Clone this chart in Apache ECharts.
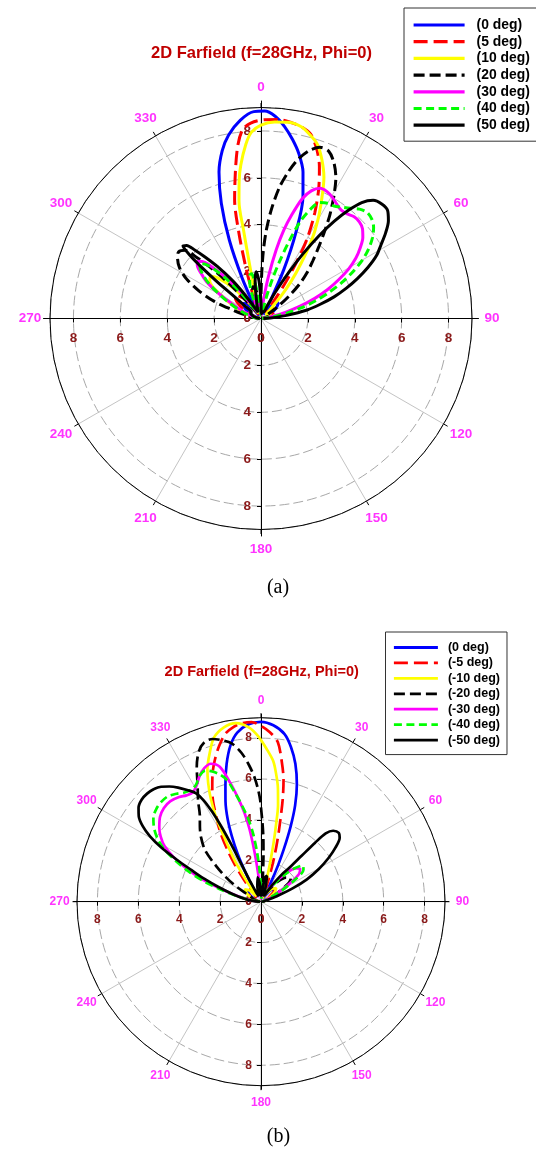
<!DOCTYPE html>
<html>
<head>
<meta charset="utf-8">
<script src="https://cdn.jsdelivr.net/npm/echarts@6/dist/echarts.min.js"></script>
<style>
html,body{margin:0;padding:0;background:#ffffff;}
#chart{width:536px;height:1150px;}
</style>
</head>
<body>
<div id="chart"></div>
<script>
// Tick labels
const angleTicks = [0, 30, 60, 90, 120, 150, 180, 210, 240, 270, 300, 330];
const radialTicks = [0, 2, 4, 6, 8];
const radialMinorTicks = [2, 4, 6, 8];

// Series names
const namesA = ['(0 deg)', '(5 deg)', '(10 deg)', '(20 deg)', '(30 deg)', '(40 deg)', '(50 deg)'];
const namesB = ['(0 deg)', '(-5 deg)', '(-10 deg)', '(-20 deg)', '(-30 deg)', '(-40 deg)', '(-50 deg)'];

// Far-field magnitude, pairs of [theta (deg), value] — panel (a), positive steering
const A_0 = [[-90,0.05],[-78,0.2],[-68,0.45],[-58,0.8],[-50,1.0],[-44,0.85],[-38,0.45],[-33,0.15],[-30,0.3],[-28,0.7],[-25,1.9],[-22,3.6],[-19,5.2],[-16,6.5],[-13,7.35],[-10,7.95],[-6,8.5],[-2,8.83],[1,8.85],[4,8.65],[7,8.25],[10,7.75],[13,7.2],[16,6.5],[19,5.5],[22,4.0],[25,2.3],[28,0.8],[31,0.2],[36,0.45],[42,0.85],[48,1.0],[55,0.8],[65,0.45],[77,0.2],[90,0.05]];
const A_5 = [[-90,0.05],[-75,0.3],[-63,0.8],[-53,1.35],[-47,1.5],[-41,1.15],[-35,0.55],[-29,0.2],[-23,0.3],[-20,0.7],[-18,1.4],[-16.5,2.3],[-14.5,3.75],[-12.5,5.2],[-9.5,6.55],[-7.5,7.5],[-5.5,8.1],[-3,8.35],[1,8.48],[5,8.52],[9,8.45],[12,8.35],[15,8.15],[18,7.65],[21,6.95],[24,6.05],[27,5.05],[30,3.95],[32,2.95],[34,2.0],[36,1.1],[39,0.4],[44,0.3],[52,0.75],[60,0.7],[70,0.4],[80,0.2],[90,0.05]];
const A_10 = [[-90,0.05],[-76,0.4],[-66,1.2],[-59,2.1],[-54,2.7],[-50,2.8],[-46,2.4],[-42,1.7],[-37,0.8],[-31,0.3],[-24,0.3],[-17,0.5],[-14,0.9],[-12.5,1.8],[-11.6,2.9],[-11.2,3.8],[-10.6,5.1],[-9,5.95],[-7.5,6.6],[-5,7.45],[-3,7.95],[0,8.25],[4,8.4],[8,8.45],[12,8.35],[15,8.1],[18,7.8],[21,7.25],[24,6.6],[27,5.7],[30,4.85],[33,3.95],[36,2.9],[39,2.05],[42,1.25],[46,0.5],[52,0.25],[60,0.45],[70,0.4],[80,0.2],[90,0.05]];
const A_20 = [[-90,0.05],[-82,0.3],[-76,0.8],[-73,1.3],[-70,2.1],[-66,2.9],[-62,3.6],[-58,4.1],[-54,4.4],[-51,4.52],[-48,4.35],[-46.5,3.8],[-45,3.2],[-43,2.3],[-41,1.4],[-38,0.6],[-34,0.3],[-28,0.4],[-20,0.9],[-15,1.4],[-11,1.35],[-7,0.8],[-3,0.3],[0,1.0],[1,2.0],[2,2.9],[3.5,3.8],[5.5,4.7],[8,5.65],[10.5,6.35],[13,6.95],[16,7.45],[19,7.72],[22,7.7],[25,7.35],[28,6.8],[30.5,6.15],[32.5,5.6],[34,5.2],[36.5,4.5],[39,3.9],[42,3.3],[45,2.8],[48,2.25],[51,1.6],[54,1.0],[58,0.4],[65,0.2],[75,0.3],[90,0.05]];
const A_30 = [[-90,0.05],[-78,0.3],[-68,0.8],[-63,1.4],[-59,2.2],[-56,2.8],[-53,3.2],[-50,3.55],[-48,3.65],[-46,3.5],[-43.5,3.05],[-41,2.4],[-38,1.6],[-35,0.8],[-31,0.3],[-24,0.4],[-18,0.9],[-13,1.0],[-8,0.6],[-3,0.2],[3,0.15],[6,0.3],[8,0.9],[10,1.8],[12.5,3.0],[14.5,3.9],[16.5,4.6],[19,5.4],[21.5,5.85],[24.5,6.1],[27.5,6.1],[30.5,6.0],[33.5,5.85],[36.5,5.75],[39.5,5.78],[42.5,5.88],[45.5,5.88],[48.5,5.78],[51.5,5.55],[54.5,5.2],[57.5,4.8],[60.5,4.3],[63.5,3.7],[66.5,3.1],[69.5,2.45],[72.5,1.75],[75.5,1.1],[79,0.5],[84,0.2],[90,0.05]];
const A_40 = [[-90,0.05],[-80,0.3],[-70,0.9],[-63,1.6],[-59,2.2],[-56,2.7],[-53,3.1],[-50,3.4],[-48,3.5],[-46,3.35],[-43.5,2.9],[-41,2.2],[-38,1.4],[-35,0.6],[-30,0.3],[-24,0.6],[-19,1.4],[-15,1.9],[-12,1.95],[-9,1.4],[-5,0.6],[0,0.15],[8,0.15],[12,0.3],[14,0.9],[16,1.7],[18,2.55],[20,3.5],[22,4.45],[24.5,5.15],[27,5.55],[30,5.68],[33,5.72],[36,5.87],[39,6.05],[42,6.28],[45,6.4],[48,6.35],[51,6.18],[54,5.88],[57,5.48],[60,5.0],[63,4.4],[66,3.78],[69,3.1],[72,2.45],[75,1.8],[78,1.15],[82,0.5],[87,0.15],[90,0.05]];
const A_50 = [[-90,0.05],[-75,0.3],[-62,0.5],[-56,0.5],[-52,0.9],[-50.5,1.6],[-50,2.5],[-49.2,3.4],[-48.3,4.1],[-47,4.55],[-45.5,4.45],[-44,4.05],[-42.3,3.55],[-40,2.9],[-37,2.05],[-34,1.2],[-30,0.5],[-24,0.3],[-15,0.7],[-9,1.6],[-6,2.0],[-3,1.6],[0,0.7],[5,0.2],[15,0.3],[22,0.3],[26,0.6],[28.5,1.3],[31,2.3],[33,3.3],[35,4.3],[37,5.2],[39,5.95],[41,6.55],[43.5,6.95],[46.5,7.1],[49.5,7.1],[52.5,6.85],[55.5,6.45],[58.5,6.0],[61.5,5.6],[64.5,5.05],[67.5,4.45],[70.5,3.85],[73.5,3.25],[76.5,2.6],[79.5,2.0],[83,1.1],[87,0.4],[90,0.1]];

// Panel (b), negative steering
const B_0 = [[-90,0.05],[-76,0.2],[-62,0.5],[-52,0.8],[-44,0.75],[-37,0.35],[-32,0.3],[-30,0.8],[-28,1.6],[-26,2.6],[-24,3.5],[-22,4.35],[-19.5,5.2],[-17,5.95],[-14,6.95],[-11,7.8],[-8,8.35],[-4,8.7],[0,8.8],[4,8.65],[8,8.28],[11,7.7],[14,6.95],[17,6.0],[19.5,5.0],[21.5,3.95],[23.5,2.8],[25,2.0],[27,1.1],[29,0.45],[32,0.2],[37,0.45],[43,0.8],[50,0.9],[60,0.6],[75,0.2],[90,0.05]];
const B_m5 = [[-90,0.05],[-78,0.2],[-68,0.5],[-58,0.7],[-50,0.45],[-44,0.3],[-41,0.7],[-39,1.1],[-37,1.6],[-35,2.3],[-33,3.0],[-30.5,3.9],[-28,4.6],[-25.5,5.45],[-23,6.1],[-20.5,6.75],[-18,7.3],[-15,7.9],[-12,8.4],[-9,8.65],[-6,8.78],[-3,8.8],[0,8.6],[3,8.3],[6,7.85],[8.5,6.9],[10.5,6.05],[12,5.1],[13.5,4.0],[15,3.1],[16.5,2.3],[18,1.5],[20,0.7],[23,0.25],[30,0.4],[37,0.8],[44,1.05],[51,0.85],[60,0.45],[75,0.2],[90,0.05]];
const B_m10 = [[-90,0.05],[-76,0.3],[-63,0.7],[-53,1.0],[-46,0.8],[-40,0.35],[-37,0.5],[-35.5,1.0],[-34,1.6],[-32.5,2.4],[-31,3.0],[-29.5,3.7],[-28,4.7],[-26,5.6],[-24,6.35],[-22,7.0],[-19,7.7],[-16,8.35],[-12,8.72],[-8,8.82],[-4,8.55],[-1,8.1],[2,7.5],[5,6.9],[7,6.2],[8.5,5.6],[10,4.8],[11,3.9],[12,3.0],[13,2.1],[14.5,1.1],[16.5,0.4],[21,0.2],[30,0.4],[40,0.8],[48,1.0],[56,0.8],[66,0.4],[78,0.2],[90,0.05]];
const B_m20 = [[-90,0.05],[-76,0.3],[-66,0.5],[-61,0.85],[-58,1.5],[-55,2.1],[-51.5,2.8],[-47.5,3.7],[-43,4.3],[-39,4.75],[-35.5,5.15],[-32,5.8],[-28.5,6.5],[-25.5,7.3],[-22.5,7.95],[-19.5,8.28],[-16.5,8.3],[-13.5,8.12],[-10.5,7.88],[-7.5,7.35],[-5,6.7],[-3,6.1],[-1.5,5.5],[-0.5,5.0],[0,4.6],[1,3.9],[2,3.2],[3,2.3],[4,1.4],[6,0.6],[10,0.3],[17,0.5],[25,0.4],[33,0.7],[40,1.3],[46,1.7],[52,1.85],[57,1.5],[63,0.8],[72,0.3],[90,0.05]];
const B_m30 = [[-90,0.05],[-83,0.4],[-78,0.9],[-75,1.4],[-72,2.1],[-69,3.1],[-66,4.0],[-63,4.8],[-60,5.45],[-57,5.85],[-54,6.15],[-50,6.45],[-46,6.6],[-42,6.62],[-38,6.5],[-35,6.35],[-32,6.3],[-29,6.5],[-26,6.85],[-23,7.1],[-20,7.18],[-17,6.9],[-14.5,6.0],[-12.5,5.2],[-10.5,4.4],[-9,3.6],[-7.5,2.5],[-6,1.5],[-4,0.6],[0,0.15],[10,0.35],[20,0.5],[30,0.7],[37,1.3],[42,1.95],[46,2.35],[50,2.5],[54,2.3],[58,1.6],[63,0.8],[70,0.3],[90,0.05]];
const B_m40 = [[-90,0.05],[-82,0.5],[-77,1.2],[-73.5,2.0],[-70.5,2.9],[-67.5,3.8],[-64.5,4.6],[-61.5,5.4],[-58.5,5.95],[-55,6.4],[-52,6.68],[-48.5,6.84],[-45,6.9],[-41.5,6.88],[-38,6.7],[-35,6.52],[-32,6.45],[-29,6.55],[-26,6.85],[-23,6.97],[-20.5,6.8],[-18,6.55],[-15.5,6.15],[-13.5,5.5],[-12,5.05],[-10,4.45],[-8,3.85],[-6.5,3.3],[-4.5,2.4],[-2.5,1.5],[-1,0.8],[1,0.3],[6,0.2],[14,0.4],[24,0.5],[33,0.8],[40,1.6],[45,2.3],[49,2.7],[53,2.6],[57,2.0],[62,1.1],[68,0.4],[78,0.15],[90,0.05]];
const B_m50 = [[-90,0.05],[-84,0.4],[-79,0.9],[-75,1.45],[-71,2.2],[-68,3.0],[-65.5,3.75],[-63.5,4.6],[-61.5,5.55],[-59.5,6.3],[-57.5,6.85],[-55,7.3],[-52.5,7.55],[-49.5,7.68],[-46.5,7.68],[-43.5,7.6],[-41,7.45],[-38.5,7.2],[-36,6.9],[-33.5,6.55],[-31,6.2],[-29.5,5.7],[-28.5,5.0],[-27.8,4.1],[-27.5,3.1],[-27.6,2.2],[-27.9,1.2],[-27,0.45],[-20,0.3],[-13,0.8],[-8,1.2],[-4,0.9],[0,0.3],[5,0.5],[9,1.2],[13,1.3],[17,0.8],[22,0.3],[29,0.4],[34,1.0],[37.5,1.7],[40,2.2],[41.5,3.0],[42.5,3.9],[43.5,4.6],[45.5,4.95],[48.5,5.08],[51,4.95],[54,4.5],[57,3.95],[60.5,3.25],[64,2.5],[67,1.7],[70,0.9],[74,0.35],[80,0.15],[90,0.05]];

const curvesA = [A_0, A_5, A_10, A_20, A_30, A_40, A_50];
const curvesB = [B_0, B_m5, B_m10, B_m20, B_m30, B_m40, B_m50];

// Styles
const lineColors = ['#0000ff', '#ff0000', '#ffff00', '#000000', '#ff00ff', '#00ff00', '#000000'];
const lineTypes = ['solid', [14, 6], 'solid', [11, 5], 'solid', [8, 4.5], 'solid'];
const SANS = '"Liberation Sans", Arial, Helvetica, sans-serif';
const SERIF = '"Liberation Serif", "Times New Roman", serif';
const MAGENTA = '#ff00ff';
const RADIAL_COLOR = '#8b1a1a';
const TITLE_COLOR = '#c00000';
const R_MAX = 9;
const LABEL_R = 9.85;

const polar = [], angleAxis = [], radiusAxis = [], series = [];

// One polar panel: plot circle plus four radial axes (up, down, left, right)
function addPanel(p) {
  const base = polar.length;
  polar.push({ center: [p.cx, p.cy], radius: p.r });
  angleAxis.push({
    polarIndex: base, type: 'value', min: 0, max: 360, interval: 30,
    startAngle: 90, clockwise: true, z: 3,
    axisLine: { show: true, lineStyle: { color: '#000', width: 1 } },
    axisTick: { show: true, length: 4.5, lineStyle: { color: '#000', width: 1 } },
    axisLabel: { show: false },
    splitLine: { show: true, lineStyle: { color: '#c4c4c4', width: 1 } }
  });
  radiusAxis.push({
    polarIndex: base, type: 'value', min: 0, max: R_MAX, interval: 2, z: 1,
    axisLine: { show: false }, axisTick: { show: false }, axisLabel: { show: false },
    splitLine: { show: true, lineStyle: { color: '#a8a8a8', width: 1, type: [10, 4] } }
  });

  const dirs = [
    { start: 90, margin: p.vMargin, tick: 4 },
    { start: 270, margin: -p.vMargin, tick: -4, align: 'right' },
    { start: 180, margin: p.hMargin, tick: 4 },
    { start: 0, margin: -p.hMargin, tick: -4, verticalAlign: 'top' }
  ];
  dirs.forEach(d => {
    const idx = polar.length;
    polar.push({ center: [p.cx, p.cy], radius: p.rAxis });
    angleAxis.push({ polarIndex: idx, type: 'value', min: 0, max: 360, startAngle: d.start, show: false });
    const lbl = {
      show: true, customValues: radialTicks, margin: d.margin,
      color: RADIAL_COLOR, fontWeight: 'bold', fontSize: p.radialFont, fontFamily: SANS,
      formatter: v => (v <= 8.5 ? String(Math.round(v)) : '')
    };
    if (d.align) lbl.align = d.align;
    if (d.verticalAlign) lbl.verticalAlign = d.verticalAlign;
    radiusAxis.push({
      polarIndex: idx, type: 'value', min: 0, max: R_MAX * p.rAxis / p.r, interval: 2, z: 4,
      axisLine: { show: true, lineStyle: { color: '#000', width: 1 } },
      axisTick: { show: true, customValues: radialMinorTicks, length: d.tick, lineStyle: { color: '#000', width: 1 } },
      axisLabel: lbl,
      splitLine: { show: false }
    });
  });

  // angular tick labels
  series.push({
    type: 'scatter', coordinateSystem: 'polar', polarIndex: base,
    data: angleTicks.map(a => ({ name: String(a), value: [LABEL_R, a] })),
    symbolSize: 0, clip: false, silent: true, z: 3,
    label: { show: true, position: 'inside', formatter: '{b}', color: MAGENTA,
             fontWeight: 'bold', fontSize: p.angleFont, fontFamily: SANS }
  });

  p.curves.forEach((arr, i) => {
    series.push({
      type: 'line', name: p.names[i], coordinateSystem: 'polar', polarIndex: base,
      data: arr.map(([t, v]) => [v, t]),
      symbol: 'none', smooth: 0.3, clip: false, z: 5,
      lineStyle: { color: lineColors[i], width: p.lineWidth, type: lineTypes[i] },
      itemStyle: { color: lineColors[i] },
      emphasis: { disabled: true }
    });
  });
}

addPanel({ cx: 261, cy: 318.5, r: 211, rAxis: 217.5, vMargin: 10, hMargin: 13,
           radialFont: 13.5, angleFont: 13.5, lineWidth: 3, curves: curvesA, names: namesA });
addPanel({ cx: 261, cy: 901.7, r: 184, rAxis: 187.5, vMargin: 9, hMargin: 11.5,
           radialFont: 12, angleFont: 12, lineWidth: 2.7, curves: curvesB, names: namesB });

// legend markers: line only, no point symbol
const hiddenMarker = { color: 'rgba(0,0,0,0)', borderColor: 'rgba(0,0,0,0)', borderWidth: 0, opacity: 0 };

const option = {
  animation: false,
  backgroundColor: '#ffffff',
  title: [
    { text: '2D Farfield (f=28GHz, Phi=0)', left: 261.5, top: 45, textAlign: 'center', padding: 0,
      textStyle: { color: TITLE_COLOR, fontSize: 16.5, fontWeight: 'bold', fontFamily: SANS } },
    { text: '2D Farfield (f=28GHz, Phi=0)', left: 261.7, top: 664.5, textAlign: 'center', padding: 0,
      textStyle: { color: TITLE_COLOR, fontSize: 14.5, fontWeight: 'bold', fontFamily: SANS } },
    { text: '(a)', left: 278, top: 578, textAlign: 'center', padding: 0,
      textStyle: { color: '#000', fontSize: 20, fontWeight: 'normal', fontFamily: SERIF } },
    { text: '(b)', left: 278.5, top: 1126.5, textAlign: 'center', padding: 0,
      textStyle: { color: '#000', fontSize: 20, fontWeight: 'normal', fontFamily: SERIF } }
  ],
  legend: [
    { data: namesA, orient: 'vertical', left: 404, top: 8, padding: [10, 24, 9, 8],
      itemWidth: 51, itemHeight: 14, itemGap: 2.7, selectedMode: false,
      borderColor: '#333', borderWidth: 1, backgroundColor: '#fff',
      itemStyle: hiddenMarker, lineStyle: { width: 3.2 },
      textStyle: { color: '#000', fontSize: 13.9, fontWeight: 'bold', fontFamily: SANS, padding: [0, 0, 0, 7], lineHeight: 14 } },
    { data: namesB, orient: 'vertical', left: 385.5, top: 632, padding: [9, 7, 8, 7],
      itemWidth: 44, itemHeight: 12, itemGap: 2.43, selectedMode: false,
      borderColor: '#333', borderWidth: 1, backgroundColor: '#fff',
      itemStyle: hiddenMarker, lineStyle: { width: 2.8 },
      textStyle: { color: '#000', fontSize: 12.5, fontWeight: 'bold', fontFamily: SANS, padding: [0, 0, 0, 5], lineHeight: 12 } }
  ],
  polar: polar,
  angleAxis: angleAxis,
  radiusAxis: radiusAxis,
  series: series
};

const chart = echarts.init(document.getElementById('chart'), null, { renderer: 'canvas', width: 536, height: 1150 });
chart.setOption(option);
</script>
</body>
</html>
